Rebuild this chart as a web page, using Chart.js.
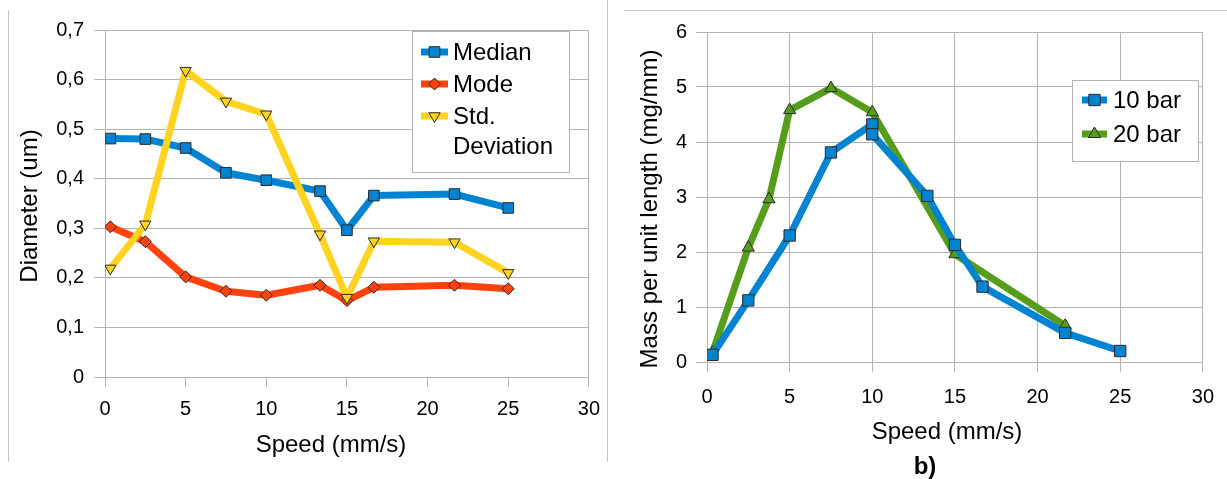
<!DOCTYPE html>
<html><head><meta charset="utf-8">
<script src="https://cdn.jsdelivr.net/npm/chart.js@4.4.1/dist/chart.umd.min.js"></script>
<style>
html,body{margin:0;padding:0;background:#fff;}
body{width:1227px;height:479px;position:relative;overflow:hidden;}
canvas{position:absolute;top:0;}
#c1{left:0;}
#c2{left:610px;}
.ln{position:absolute;background:#c8c8c8;z-index:5;}
</style></head><body>
<canvas id="c1" width="610" height="479"></canvas>
<canvas id="c2" width="617" height="479"></canvas>
<div class="ln" style="left:8px;top:10px;width:1px;height:452px"></div>
<div class="ln" style="left:607px;top:0px;width:1px;height:462px"></div>
<div class="ln" style="left:624px;top:10px;width:603px;height:1px"></div>
<script>
// ---- data: left chart (diameter) ----
const speedA = [0.33, 2.5, 5, 7.5, 10, 13.33, 15, 16.67, 21.67, 25];
const medianVals = [0.481, 0.480, 0.462, 0.412, 0.397, 0.375, 0.296, 0.366, 0.369, 0.341];
const modeVals   = [0.303, 0.273, 0.202, 0.173, 0.165, 0.185, 0.154, 0.181, 0.185, 0.178];
const stdVals    = [0.219, 0.308, 0.618, 0.556, 0.530, 0.288, 0.160, 0.274, 0.272, 0.210];
const seriesNamesA = ['Median', 'Mode', 'Std. Deviation'];
const yTicksA = ['0', '0,1', '0,2', '0,3', '0,4', '0,5', '0,6', '0,7'];
const xTicks = ['0', '5', '10', '15', '20', '25', '30'];

// ---- data: right chart (mass per unit length) ----
const speed10 = [0.33, 2.5, 5, 7.5, 10, 10, 13.33, 15, 16.67, 21.67, 25];
const bar10   = [0.13, 1.12, 2.30, 3.81, 4.32, 4.14, 3.02, 2.13, 1.37, 0.53, 0.20];
const speed20 = [0.33, 2.5, 3.75, 5, 7.5, 10, 15, 21.67];
const bar20   = [0.17, 2.08, 2.96, 4.58, 4.98, 4.54, 1.96, 0.66];
const seriesNamesB = ['10 bar', '20 bar'];
const yTicksB = ['0', '1', '2', '3', '4', '5', '6'];

const GRID = '#b3b3b3';
const FONT = "'Liberation Sans', Arial, sans-serif";
const C_BLUE = '#0084d1', C_RED = '#ff420e', C_YEL = '#ffd320', C_GRN = '#579d1c';

function mkDs(label, xs, ys, color, style, radius, rot, order) {
  return {
    label, data: xs.map((x, i) => ({x, y: ys[i]})),
    showLine: true, borderColor: color, backgroundColor: color, borderWidth: 7,
    borderJoinStyle: 'round', tension: 0,
    pointStyle: style, pointRadius: radius, pointRotation: rot,
    pointBackgroundColor: color, pointBorderColor: '#2a2a2a', pointBorderWidth: 1,
    order
  };
}

const boxLegend = {
  id: 'boxLegend',
  afterDraw(chart, args, o) {
    const ctx = chart.ctx;
    ctx.save();
    ctx.fillStyle = '#fff';
    ctx.fillRect(o.x, o.y, o.w, o.h);
    ctx.strokeStyle = GRID; ctx.lineWidth = 1;
    ctx.strokeRect(o.x + 0.5, o.y + 0.5, o.w, o.h);
    ctx.font = o.font;
    chart.data.datasets.forEach((ds, i) => {
      const y = o.rows[i];
      ctx.strokeStyle = ds.borderColor; ctx.lineWidth = ds.borderWidth; ctx.lineCap = 'butt';
      ctx.beginPath(); ctx.moveTo(o.lx0, y); ctx.lineTo(o.lx1, y); ctx.stroke();
      ctx.fillStyle = ds.pointBackgroundColor; ctx.strokeStyle = ds.pointBorderColor; ctx.lineWidth = ds.pointBorderWidth;
      Chart.helpers.drawPoint(ctx, {pointStyle: ds.pointStyle, radius: ds.pointRadius, rotation: ds.pointRotation || 0, borderWidth: ds.pointBorderWidth}, (o.lx0 + o.lx1) / 2, y);
      const words = ds.label.split(' ');
      const lines = []; let cur = '';
      words.forEach(w => {
        const t = cur ? cur + ' ' + w : w;
        if (cur && ctx.measureText(t).width > o.maxW) { lines.push(cur); cur = w; } else cur = t;
      });
      lines.push(cur);
      ctx.fillStyle = '#000'; ctx.textAlign = 'left'; ctx.textBaseline = 'middle';
      lines.forEach((ln, k) => ctx.fillText(ln, o.tx, y + 1 + k * o.lh));
    });
    ctx.restore();
  }
};

const extraText = {
  id: 'extraText',
  afterDraw(chart, args, o) {
    const ctx = chart.ctx;
    (o.items || []).forEach(it => {
      ctx.save();
      ctx.font = it.font; ctx.fillStyle = '#000'; ctx.textAlign = 'center'; ctx.textBaseline = 'middle';
      ctx.translate(it.x, it.y);
      if (it.rot) ctx.rotate(it.rot);
      ctx.fillText(it.text, 0, 0);
      ctx.restore();
    });
  }
};

Chart.defaults.font.family = FONT;
Chart.defaults.color = '#000';

// ---- left chart ----
new Chart(document.getElementById('c1'), {
  type: 'scatter',
  data: { datasets: [
    mkDs(seriesNamesA[0], speedA, medianVals, C_BLUE, 'rect', 7.5, 0, 3),
    mkDs(seriesNamesA[1], speedA, modeVals, C_RED, 'rectRot', 6, 0, 2),
    mkDs(seriesNamesA[2], speedA, stdVals, C_YEL, 'triangle', 6.5, 180, 1)
  ]},
  plugins: [boxLegend, extraText],
  options: {
    responsive: false, animation: false, events: [],
    layout: { padding: { left: 0, right: 17, top: 30, bottom: 0 } },
    plugins: {
      legend: { display: false }, tooltip: { enabled: false },
      boxLegend: { x: 412, y: 31, w: 157, h: 141, lx0: 421, lx1: 448, tx: 453, rows: [52, 84, 116], lh: 30, maxW: 108, font: "24px " + FONT },
      extraText: { items: [
        { text: 'Diameter (um)', x: 30, y: 206, rot: -Math.PI / 2, font: "24px " + FONT },
        { text: 'Speed (mm/s)', x: 331, y: 445, font: "24px " + FONT }
      ]}
    },
    scales: {
      x: {
        type: 'linear', min: 0, max: 30,
        afterFit: s => { s.height = 102; },
        ticks: { stepSize: 5, padding: 10, font: { size: 20 }, callback: (v, i) => xTicks[i] },
        grid: { color: c => (c.tick && c.tick.value === 30) ? GRID : 'rgba(0,0,0,0)', tickColor: GRID, tickLength: 10 },
        border: { color: GRID }
      },
      y: {
        min: 0, max: 0.7,
        afterFit: s => { s.width = 105; },
        ticks: { stepSize: 0.1, padding: 10, font: { size: 20 }, callback: (v, i) => yTicksA[i] },
        grid: { color: GRID, tickColor: GRID, tickLength: 11 },
        border: { color: GRID }
      }
    }
  }
});

// ---- right chart ----
new Chart(document.getElementById('c2'), {
  type: 'scatter',
  data: { datasets: [
    mkDs(seriesNamesB[0], speed10, bar10, C_BLUE, 'rect', 8, 0, 1),
    mkDs(seriesNamesB[1], speed20, bar20, C_GRN, 'triangle', 7, 0, 2)
  ]},
  plugins: [boxLegend, extraText],
  options: {
    responsive: false, animation: false, events: [],
    layout: { padding: { left: 0, right: 23, top: 32, bottom: 0 } },
    plugins: {
      legend: { display: false }, tooltip: { enabled: false },
      boxLegend: { x: 462, y: 80, w: 126, h: 81, lx0: 472, lx1: 497, tx: 503, rows: [100, 134], lh: 30, maxW: 200, font: "24px " + FONT },
      extraText: { items: [
        { text: 'Mass per unit length (mg/mm)', x: 40, y: 209, rot: -Math.PI / 2, font: "24px " + FONT },
        { text: 'Speed (mm/s)', x: 337, y: 432, font: "24px " + FONT },
        { text: 'b)', x: 315, y: 467, font: "bold 24px " + FONT }
      ]}
    },
    scales: {
      x: {
        type: 'linear', min: 0, max: 30,
        afterFit: s => { s.height = 117; },
        ticks: { stepSize: 5, padding: 13, font: { size: 20 }, callback: (v, i) => xTicks[i] },
        grid: { color: GRID, tickColor: GRID, tickLength: 10 },
        border: { color: GRID }
      },
      y: {
        min: 0, max: 6,
        afterFit: s => { s.width = 97; },
        ticks: { stepSize: 1, padding: 9, font: { size: 20 }, callback: (v, i) => yTicksB[i] },
        grid: { color: GRID, tickColor: GRID, tickLength: 11 },
        border: { color: GRID }
      }
    }
  }
});
</script>
</body></html>
